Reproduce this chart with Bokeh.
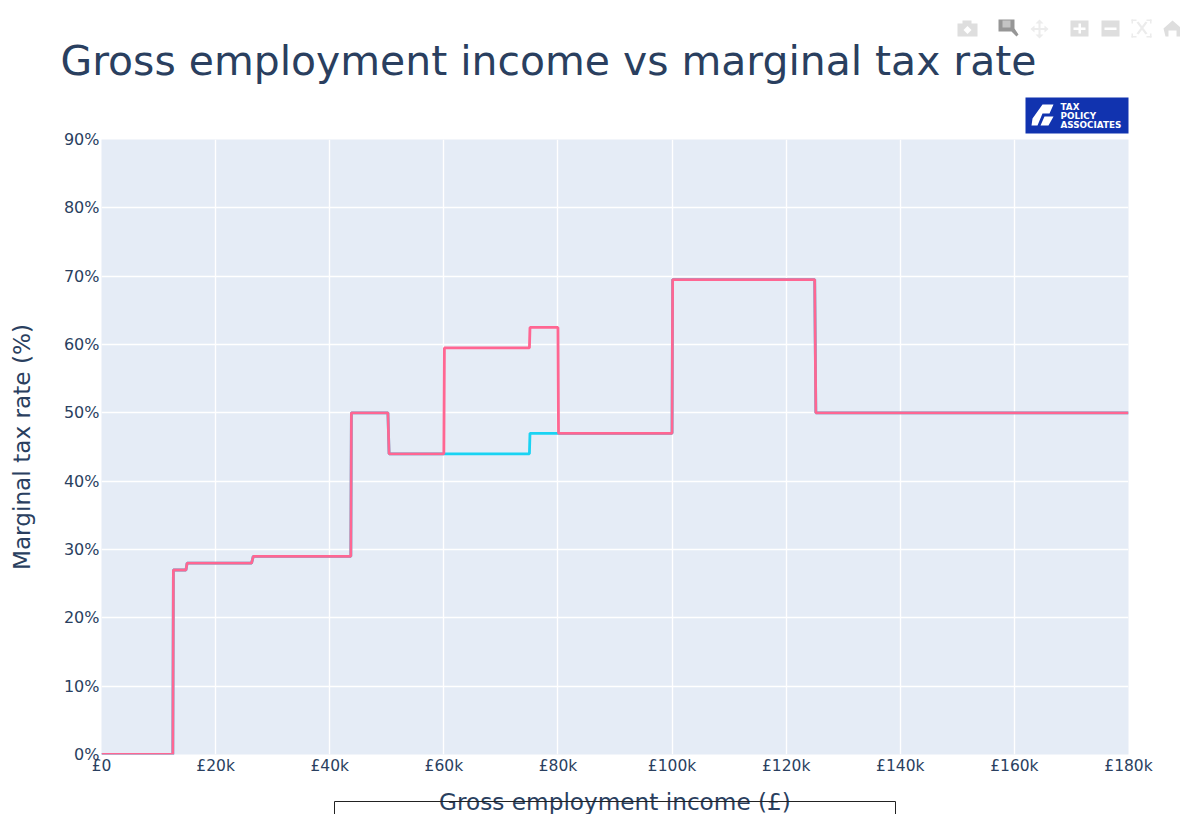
from bokeh.core.properties import value
from bokeh.embed import file_html
from bokeh.layouts import column
from bokeh.models import FixedTicker, Range1d
from bokeh.plotting import figure
from bokeh.resources import INLINE

# Marginal rate schedule: income (GBP) against rate (%)
income = [0, 12500, 12600, 14800, 15000, 26300, 26600, 43700, 43800, 50200, 50400,
          60000, 60100, 75000, 75100, 80000, 80100, 100000, 100100, 125000, 125200, 180000]
rate_after_charge = [0, 0, 27, 27, 28, 28, 29, 29, 50, 50, 44,
                     44, 59.5, 59.5, 62.5, 62.5, 47, 47, 69.5, 69.5, 50, 50]
rate_before_charge = [0, 0, 27, 27, 28, 28, 29, 29, 50, 50, 44,
                      44, 44, 44, 47, 47, 47, 47, 69.5, 69.5, 50, 50]

x_ticks = [0, 20000, 40000, 60000, 80000, 100000, 120000, 140000, 160000, 180000]
x_tick_labels = ["£0", "£20k", "£40k", "£60k", "£80k", "£100k", "£120k", "£140k", "£160k", "£180k"]
y_ticks = [0, 10, 20, 30, 40, 50, 60, 70, 80, 90]
y_tick_labels = ["0%", "10%", "20%", "30%", "40%", "50%", "60%", "70%", "80%", "90%"]

chart_title = "Gross employment income vs marginal tax rate"
logo_lines = ["TAX", "POLICY", "ASSOCIATES"]

INK = "#2a3f5f"
FONT = "DejaVu Sans"
HEAD_HEIGHT = 125


def strip(height, top, **kwargs):
    """A borderless figure whose data coordinates are page pixels."""
    f = figure(width=1180, height=height, output_backend="svg", toolbar_location=None,
               x_axis_type=None, y_axis_type=None, outline_line_color=None,
               x_range=Range1d(0, 1180), y_range=Range1d(top + height, top),
               min_border=0, background_fill_alpha=0, border_fill_alpha=0,
               frame_align=False, **kwargs)
    f.grid.visible = False
    return f


# Header: title, modebar icons and logo
head = strip(HEAD_HEIGHT + 14, 0)


def box(l, t, r, b, color):
    head.quad(left=l, right=r, top=t, bottom=b, fill_color=color, line_color=None)


def poly(xs, ys, color):
    head.patch(xs, ys, fill_color=color, line_color=None)


head.text([60], [60], [chart_title], text_font=value(FONT), text_font_size="40.9px",
          text_color=INK, text_baseline="middle")

box(1025, 97, 1128, 133, "#1133AF")
poly([1031, 1032, 1042, 1053, 1049, 1042, 1037], [125, 118, 104, 104, 113, 113, 125], "white")
poly([1040, 1044, 1053, 1048], [125, 116, 116, 125], "white")
head.text([1060, 1060, 1060], [106, 115, 124], logo_lines, text_font=value(FONT),
          text_font_size="8.8px", text_font_style="bold", text_color="white", text_baseline="middle")

LIGHT = "#dedede"
PALE = "#ececec"
ACTIVE = "#969696"
box(957, 23, 977, 36, LIGHT)
box(962, 20, 971, 24, LIGHT)
poly([963, 967, 971, 967], [29.5, 25.5, 29.5, 33.5], "white")

poly([998, 1014, 1014, 1018, 1016, 1011, 998], [19, 19, 28, 34, 36, 31, 31], ACTIVE)
box(1002, 20, 1010, 27, "#c4c4c4")

box(1038, 21, 1040, 36, PALE)
box(1031, 27.5, 1047, 29.5, PALE)
poly([1035, 1043, 1039], [23, 23, 19], PALE)
poly([1035, 1043, 1039], [34, 34, 38], PALE)
poly([1034, 1034, 1030], [25, 32, 28.5], PALE)
poly([1044, 1044, 1048], [25, 32, 28.5], PALE)

box(1070, 20, 1088, 36, LIGHT)
box(1073, 27, 1085, 29.5, "white")
box(1078, 23, 1080.5, 33, "white")

box(1101, 20, 1119, 36, LIGHT)
box(1104, 27, 1116, 29.5, "white")

for l, t, r, b in [(1131, 19, 1136, 20.5), (1146, 19, 1151, 20.5),
                   (1131, 35.5, 1136, 37), (1146, 35.5, 1151, 37),
                   (1131, 19, 1132.5, 23), (1149.5, 19, 1151, 23),
                   (1131, 33, 1132.5, 37), (1149.5, 33, 1151, 37)]:
    box(l, t, r, b, PALE)
poly([1136, 1138, 1147, 1145], [22, 21, 33, 34], PALE)
poly([1145, 1147, 1138, 1136], [21, 22, 34, 33], PALE)

poly([1163, 1172, 1180, 1180, 1176, 1176, 1168, 1168, 1165], [28, 20, 27, 36, 36, 30, 30, 36, 36], LIGHT)

# Main chart; its top border slides under the header so the topmost tick label keeps its place
p = figure(width=1180, height=814 - HEAD_HEIGHT, frame_width=1027, frame_height=615,
           output_backend="svg", toolbar_location=None, frame_align=False,
           x_range=(0, 180000), y_range=(0, 90), margin=(-14, 0, 0, 0),
           min_border_left=101, min_border_right=52, min_border_top=14, min_border_bottom=60,
           background_fill_color="#E5ECF6", border_fill_alpha=0, outline_line_color=None)

p.line(income, rate_before_charge, line_color="#19d3f3", line_width=2.8)
p.line(income, rate_after_charge, line_color="#FF6692", line_width=2.8)

p.xgrid.ticker = FixedTicker(ticks=x_ticks)
p.ygrid.ticker = FixedTicker(ticks=y_ticks)
p.xgrid.grid_line_color = "white"
p.ygrid.grid_line_color = "white"
p.xgrid.grid_line_width = 1.4
p.ygrid.grid_line_width = 1.4

p.xaxis.ticker = FixedTicker(ticks=x_ticks)
p.yaxis.ticker = FixedTicker(ticks=y_ticks)
p.xaxis.major_label_overrides = dict(zip(x_ticks, x_tick_labels))
p.yaxis.major_label_overrides = dict(zip(y_ticks, y_tick_labels))
for ax in (p.xaxis[0], p.yaxis[0]):
    ax.axis_line_color = None
    ax.major_tick_line_color = None
    ax.minor_tick_line_color = None
    ax.major_tick_in = 0
    ax.major_tick_out = 0
    ax.major_label_text_color = INK
    ax.major_label_text_font = FONT
    ax.axis_label_text_color = INK
    ax.axis_label_text_font = FONT
    ax.axis_label_text_font_style = "normal"
    ax.axis_label_text_font_size = "23.2px"
p.xaxis.major_label_text_font_size = "15.5px"
p.yaxis.major_label_text_font_size = "16px"
p.xaxis.axis_label = "Gross employment income (£)"
p.yaxis.axis_label = "Marginal tax rate (%)"
p.xaxis.major_label_standoff = 2
p.yaxis.major_label_standoff = 2
p.xaxis.axis_label_standoff = 10
p.yaxis.axis_label_standoff = 26

# Open-bottomed frame laid over the lower edge of the page
foot = strip(22, 795, margin=(-22, 0, 0, 0))
foot.line([334, 334, 895, 895], [817, 801, 801, 817], line_color="#222222", line_width=1)

page = column(head, p, foot, spacing=0)

out = open("out.html", "w")
out.write(file_html(page, INLINE))
out.close()
